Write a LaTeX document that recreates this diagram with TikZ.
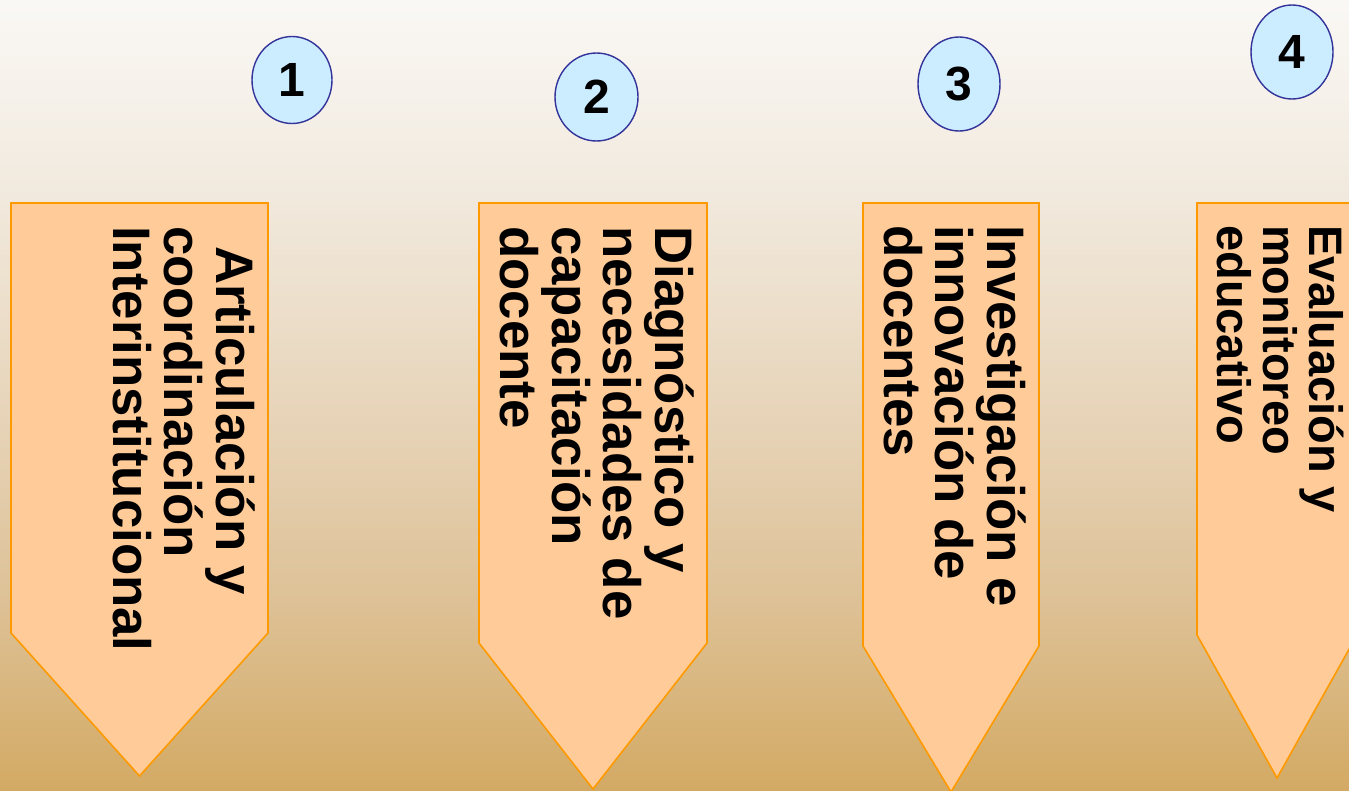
\documentclass[tikz,border=0pt]{standalone}
\usepackage{fontspec}
\setmainfont{Liberation Sans}
\usetikzlibrary{shapes.geometric}
\definecolor{bgA}{RGB}{211,170,100}
\definecolor{bgB}{RGB}{222,194,152}
\definecolor{bgC}{RGB}{232,214,188}
\definecolor{bgD}{RGB}{241,233,221}
\definecolor{bgE}{RGB}{250,248,245}
\definecolor{arrowfill}{RGB}{255,204,153}
\definecolor{arrowline}{RGB}{255,153,0}
\definecolor{circfill}{RGB}{204,236,255}
\definecolor{circline}{RGB}{51,51,153}
\pgfdeclareverticalshading{bgshade}{100bp}{color(0bp)=(bgA); color(25bp)=(bgA); color(37.5bp)=(bgB); color(50bp)=(bgC); color(62.5bp)=(bgD); color(75bp)=(bgE); color(100bp)=(bgE)}
\tikzset{
  arrowshape/.style={fill=arrowfill, draw=arrowline, line width=1.6pt, line join=miter},
  numcirc/.style={ellipse, fill=circfill, draw=circline, line width=1.4pt, inner sep=0pt,
    font=\fontsize{48}{48}\selectfont\bfseries},
  vtext/.style={rotate=-90, anchor=north west, inner sep=0pt, align=left,
    font=\fontsize{52.8}{51.5}\selectfont\bfseries, text=black},
  vtextsmall/.style={vtext, font=\fontsize{47}{46}\selectfont\bfseries}
}
\begin{document}
\begin{tikzpicture}[x=1pt,y=-1pt]
\useasboundingbox (0,0) rectangle (1349,790);
\clip (0,0) rectangle (1349,790);
\shade[shading=bgshade] (0,0) rectangle (1349,790);
% arrows
\draw[arrowshape] (11,203) -- (268,203) -- (268,633) -- (139.5,776) -- (11,633) -- cycle;
\draw[arrowshape] (479,203) -- (707,203) -- (707,643) -- (593,789) -- (479,643) -- cycle;
\draw[arrowshape] (863,203) -- (1039,203) -- (1039,646) -- (951,792) -- (863,646) -- cycle;
\draw[arrowshape] (1197,203) -- (1357,203) -- (1357,635) -- (1277,778) -- (1197,635) -- cycle;
% texts
\node[vtext] (t1) at (255,226) {\hspace*{20pt}Articulación y\\coordinación\\Interinstitucional};
\node[vtext] (t2) at (694,226) {Diagnóstico y\\necesidades de\\capacitación\\docente};
\node[vtext] (t3) at (1026,225) {Investigación e\\innovación de\\docentes};
\node[vtextsmall] (t4) at (1344,225) {Evaluación y\\monitoreo\\educativo};
% circles
\node[numcirc, minimum width=80pt, minimum height=87pt] (c1) at (292,80) {1};
\node[numcirc, minimum width=83pt, minimum height=88pt] (c2) at (596.5,97) {2};
\node[numcirc, minimum width=82pt, minimum height=94pt] (c3) at (959,84) {3};
\node[numcirc, minimum width=82pt, minimum height=94pt] (c4) at (1292,52) {4};
\end{tikzpicture}
\end{document}
